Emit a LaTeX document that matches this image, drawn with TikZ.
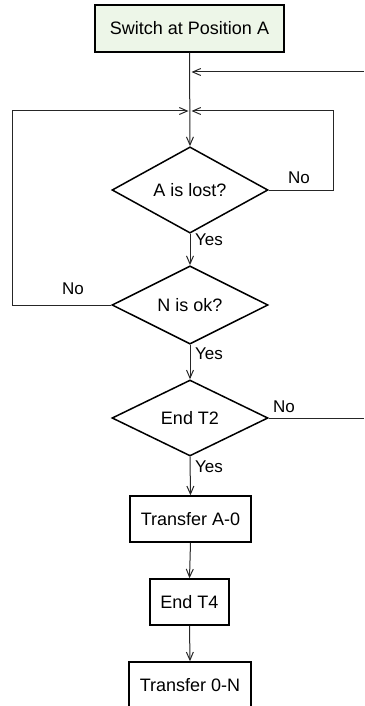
\documentclass[tikz,border=0pt]{standalone}
\usepackage{fontspec}
\setmainfont{Liberation Sans}
\usetikzlibrary{shapes.geometric,arrows.meta}
\definecolor{startfill}{HTML}{EDF6E8}
\tikzset{
  boxnode/.style={draw=black,line width=1.5pt,rectangle,inner sep=0pt,font=\fontsize{18}{20}\selectfont},
  decnode/.style={draw=black,line width=1.5pt,diamond,inner sep=0pt,minimum width=156pt,minimum height=76pt,font=\fontsize{18}{20}\selectfont},
  conn/.style={draw=black!85,line width=1pt},
  arr/.style={conn,-{Straight Barb[length=8pt,width=7pt,line width=1pt]}},
  lbl/.style={font=\fontsize{17}{19}\selectfont,inner sep=0pt}
}
\begin{document}
\begin{tikzpicture}[x=1pt,y=-1pt]
\useasboundingbox (0,0) rectangle (364,706);
\clip (0,0) rectangle (364,706);
\node[boxnode,fill=startfill,minimum width=189pt,minimum height=47pt] (start) at (189.5,28.5) {Switch at Position A};
\node[decnode] (lost) at (190,190) {A is lost?};
\node[decnode] (nok) at (190,305) {N is ok?};
\node[decnode] (t2) at (190,418) {End T2};
\node[boxnode,minimum width=121pt,minimum height=46pt] (ta0) at (190.5,519) {Transfer A-0};
\node[boxnode,minimum width=79pt,minimum height=46pt] (t4) at (189.5,602) {End T4};
\node[boxnode,minimum width=122pt,minimum height=46pt] (t0n) at (190,685) {Transfer 0-N};
\coordinate (j1) at (190,72);
\coordinate (j2) at (190,111);
\coordinate (rin) at (364,72);
\coordinate (rout) at (364,418);
\coordinate (lc1) at (12,305);
\coordinate (lc2) at (12,111);
\coordinate (rc1) at (333,190);
\coordinate (rc2) at (333,111);
\draw[arr] (start.south) -- (lost.north);
\draw[arr] (rin) -- ([xshift=1.5pt]j1);
\draw[arr] (nok.west) -- (lc1) -- (lc2) -- ([xshift=-1.5pt]j2);
\draw[arr] (lost.east) -- (rc1) -- (rc2) -- ([xshift=1.5pt]j2);
\draw[arr] (lost.south) -- (nok.north);
\draw[arr] (nok.south) -- (t2.north);
\draw[conn] (t2.east) -- (rout);
\draw[arr] (t2.south) -- (ta0.north);
\draw[arr] (ta0.south) -- (t4.north);
\draw[arr] (t4.south) -- (t0n.north);
\node[lbl] (no1) at (299,178) {No};
\node[lbl] (no2) at (73,289) {No};
\node[lbl] (no3) at (284,407) {No};
\node[lbl] (yes1) at (209,240) {Yes};
\node[lbl] (yes2) at (209,354) {Yes};
\node[lbl] (yes3) at (209,467) {Yes};
\end{tikzpicture}
\end{document}
